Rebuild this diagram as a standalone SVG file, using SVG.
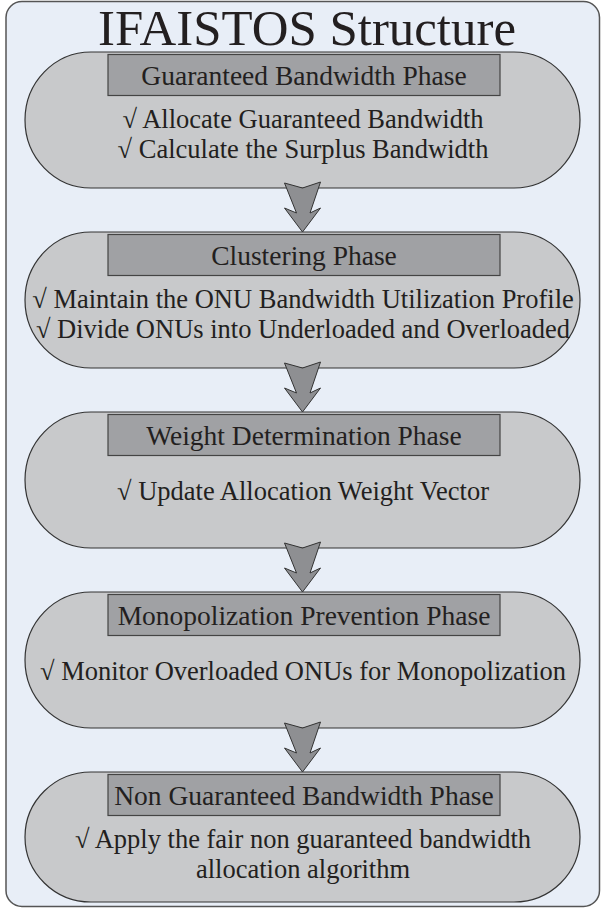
<svg xmlns="http://www.w3.org/2000/svg" width="605" height="910" viewBox="0 0 605 910">
<style>
.frame{fill:#e8eef7;stroke:#555;stroke-width:1.5}
.stad{fill:#c8c9cb;stroke:#333;stroke-width:1.2}
.hdr{fill:#a0a1a4;stroke:#444;stroke-width:1.2}
.arr{fill:#8e8f92;stroke:#333;stroke-width:1}
.txt{font-family:'Liberation Serif','DejaVu Serif',serif;fill:#231f20;text-anchor:middle}
.t{font-size:50px}
.h{font-size:27.5px}
.b{font-size:26.5px}
</style>
<defs>
<path id="arrow" class="arr" d="M -18 1 L 0 6 L 18 0 L 7.5 31 L 18 26 L 0 50 L -18 26 L -6 31 Z"/>
</defs>
<rect class="frame" x="6" y="1.5" width="593.5" height="905" rx="16" ry="16"/>
<g class="txt">
<text class="t" x="307" y="44.8" textLength="418" lengthAdjust="spacingAndGlyphs">IFAISTOS Structure</text>
</g>
<g id="phase1" class="txt">
<rect class="stad" x="25" y="52" width="555" height="136" rx="66" ry="68"/>
<rect class="hdr" x="108" y="54.5" width="392" height="41"/>
<text class="h" x="304" y="84.5">Guaranteed Bandwidth Phase</text>
<text class="b" x="303" y="128">√ Allocate Guaranteed Bandwidth</text>
<text class="b" x="303" y="158">√ Calculate the Surplus Bandwidth</text>
</g>
<g id="phase2" class="txt">
<rect class="stad" x="25" y="232" width="555" height="136" rx="66" ry="68"/>
<rect class="hdr" x="108" y="234.5" width="392" height="41"/>
<text class="h" x="304" y="264.5">Clustering Phase</text>
<text class="b" x="303" y="308">√ Maintain the ONU Bandwidth Utilization Profile</text>
<text class="b" x="303" y="338">√ Divide ONUs into Underloaded and Overloaded</text>
</g>
<g id="phase3" class="txt">
<rect class="stad" x="25" y="412" width="555" height="136" rx="66" ry="68"/>
<rect class="hdr" x="108" y="414.5" width="392" height="41"/>
<text class="h" x="304" y="444.5">Weight Determination Phase</text>
<text class="b" x="303" y="500">√ Update Allocation Weight Vector</text>
</g>
<g id="phase4" class="txt">
<rect class="stad" x="25" y="592" width="555" height="136" rx="66" ry="68"/>
<rect class="hdr" x="108" y="594.5" width="392" height="41"/>
<text class="h" x="304" y="624.5">Monopolization Prevention Phase</text>
<text class="b" x="303" y="680">√ Monitor Overloaded ONUs for Monopolization</text>
</g>
<g id="phase5" class="txt">
<rect class="stad" x="25" y="772" width="555" height="130" rx="66" ry="65"/>
<rect class="hdr" x="108" y="774.5" width="392" height="41"/>
<text class="h" x="304" y="804.5">Non Guaranteed Bandwidth Phase</text>
<text class="b" x="303" y="848">√ Apply the fair non guaranteed bandwidth</text>
<text class="b" x="303" y="878">allocation algorithm</text>
</g>
<g id="connectors">
<use href="#arrow" x="302.5" y="182"/>
<use href="#arrow" x="302.5" y="362"/>
<use href="#arrow" x="302.5" y="542"/>
<use href="#arrow" x="302.5" y="722"/>
</g>
</svg>
